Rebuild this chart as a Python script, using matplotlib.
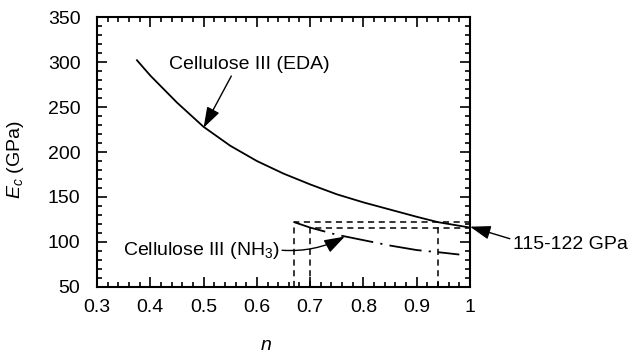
import matplotlib
matplotlib.use("Agg")
import matplotlib.pyplot as plt
from matplotlib.ticker import MultipleLocator, FixedLocator, FixedFormatter

plt.rcParams["font.family"] = ["Liberation Sans", "DejaVu Sans"]
plt.rcParams["mathtext.fontset"] = "custom"
plt.rcParams["mathtext.rm"] = "Liberation Sans"
plt.rcParams["mathtext.it"] = "Liberation Sans:italic"

# Cellulose III (EDA) curve
n_eda = [0.375, 0.40, 0.45, 0.50, 0.55, 0.60, 0.65, 0.70, 0.75, 0.80, 0.85, 0.90, 0.94, 1.00]
e_eda = [302, 285, 255, 228, 207, 190, 176, 164, 153, 144, 136, 128, 122, 116]

# Cellulose III (NH3) curve
n_nh3 = [0.67, 0.70, 0.75, 0.80, 0.85, 0.90, 0.95, 0.98]
e_nh3 = [122, 116, 108, 102, 96, 91, 88, 86]

# guide lines (dashed box)
n_lo, n_mid, n_hi = 0.67, 0.70, 0.94
e_hi, e_lo = 122, 116

x_ticks = [0.3, 0.4, 0.5, 0.6, 0.7, 0.8, 0.9, 1.0]
x_labels = ["0.3", "0.4", "0.5", "0.6", "0.7", "0.8", "0.9", "1"]
y_ticks = [50, 100, 150, 200, 250, 300, 350]

FS = 14

fig = plt.figure(figsize=(6.3, 3.56), dpi=100)
ax = fig.add_axes([0.154, 0.194, 0.592, 0.758])

ax.plot(n_eda, e_eda, color="black", lw=1.3)
ax.plot(n_nh3, e_nh3, color="black", lw=1.3, dashes=(18, 4, 1.2, 4))

dash = dict(color="black", lw=1.1, dashes=(4, 3))
ax.plot([n_lo, n_lo, 1.0], [50, e_hi, e_hi], **dash)
ax.plot([n_mid, n_mid, 1.0], [50, e_lo, e_lo], **dash)
ax.plot([n_hi, n_hi], [50, e_hi], **dash)

arrow = dict(arrowstyle="-|>,head_length=0.9,head_width=0.3", color="black",
             lw=1.0, shrinkA=0, shrinkB=0)
ax.annotate("Cellulose III (EDA)", xy=(0.50, 227), xytext=(0.585, 297),
            fontsize=FS, ha="center", va="center",
            arrowprops=dict(arrow, relpos=(0.4, 0.0)))
ax.annotate("Cellulose III (NH$_3$)", xy=(0.765, 106), xytext=(0.495, 91),
            fontsize=FS, ha="center", va="center",
            arrowprops=dict(arrow, relpos=(1.0, 0.5),
                            connectionstyle="arc3,rad=0.15"))
ax.annotate("115-122 GPa", xy=(1.0, 117), xytext=(1.08, 97),
            fontsize=FS, ha="left", va="center", annotation_clip=False,
            arrowprops=dict(arrow, relpos=(0.0, 0.8)))

ax.set_xlim(0.3, 1.0)
ax.set_ylim(50, 350)
ax.xaxis.set_major_locator(FixedLocator(x_ticks))
ax.xaxis.set_major_formatter(FixedFormatter(x_labels))
ax.xaxis.set_minor_locator(MultipleLocator(0.02))
ax.yaxis.set_major_locator(FixedLocator(y_ticks))
ax.yaxis.set_minor_locator(MultipleLocator(10))
ax.tick_params(which="both", direction="in", top=True, right=True,
               labelsize=FS, width=1.2)
ax.tick_params(which="major", length=7)
ax.tick_params(which="minor", length=3.5)
ax.tick_params(axis="x", which="major", pad=9)
ax.tick_params(axis="y", which="major", pad=12)
for s in ax.spines.values():
    s.set_linewidth(1.5)

ax.set_xlabel("$n$", fontsize=FS)
ax.xaxis.set_label_coords(0.453, -0.185)
ax.set_ylabel("$E_c$ (GPa)", fontsize=FS)
ax.yaxis.set_label_coords(-0.19, 0.47)

fig.savefig("out.png", dpi=100)
